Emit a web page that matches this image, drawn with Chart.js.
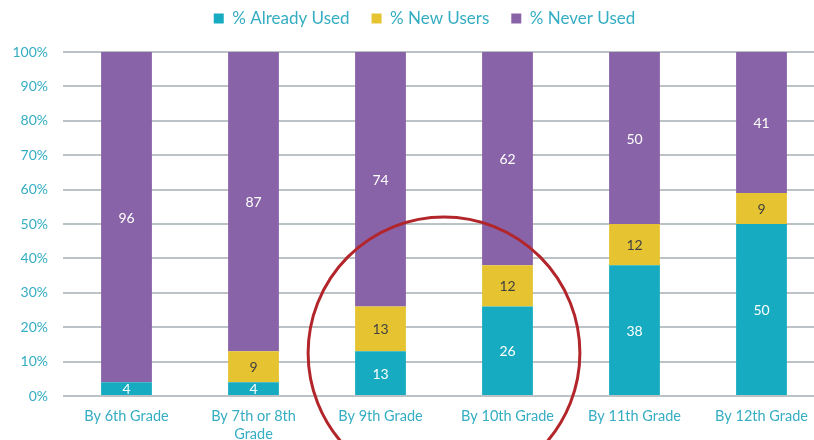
<!DOCTYPE html>
<html>
<head>
<meta charset="utf-8">
<script src="https://cdn.jsdelivr.net/npm/chart.js@4.4.1/dist/chart.umd.min.js"></script>
<style>
    html, body { margin: 0; padding: 0; background: #fff; overflow: hidden; }
    #wrap { position: relative; width: 849px; height: 440px; }
</style>
</head>
<body>
<div id="wrap"><canvas id="chart" width="849" height="440"></canvas></div>
<script>
// Categories and series (percent of students)
const grades = ['By 6th Grade', ['By 7th or 8th', 'Grade'], 'By 9th Grade', 'By 10th Grade', 'By 11th Grade', 'By 12th Grade'];
const alreadyUsed = [4, 4, 13, 26, 38, 50];
const newUsers = [0, 9, 13, 12, 12, 9];
const neverUsed = [96, 87, 74, 62, 50, 41];
const seriesNames = ['% Already Used', '% New Users', '% Never Used'];

// Colors
const teal = '#17abc1';
const yellow = '#e6c431';
const purple = '#8963a8';
const textTeal = '#35adc2';

// Draw the number in the middle of each bar piece
const barLabels = {
    id: 'barLabels',
    afterDatasetsDraw(chart) {
        const ctx = chart.ctx;
        ctx.save();
        ctx.font = '14px Lato';
        ctx.textAlign = 'center';
        ctx.textBaseline = 'middle';
        chart.data.datasets.forEach((ds, i) => {
            const meta = chart.getDatasetMeta(i);
            meta.data.forEach((bar, j) => {
                const v = ds.data[j];
                if (!v) return;
                ctx.fillStyle = i === 1 ? '#404040' : '#ffffff';
                ctx.fillText(v, bar.x, (bar.y + bar.base) / 2 + 1);
            });
        });
        ctx.restore();
    }
};

// Red circle around 9th and 10th grade
const circleMark = {
    id: 'circleMark',
    afterDraw(chart) {
        const x = chart.scales.x;
        const y = chart.scales.y;
        const step = x.getPixelForValue(1) - x.getPixelForValue(0);
        const cx = (x.getPixelForValue(2) + x.getPixelForValue(3)) / 2;
        const cy = y.getPixelForValue(12.5);
        const r = step * 1.07;
        const ctx = chart.ctx;
        ctx.save();
        ctx.strokeStyle = '#b2262b';
        ctx.lineWidth = 3;
        ctx.beginPath();
        ctx.arc(cx, cy, r, 0, Math.PI * 2);
        ctx.stroke();
        ctx.restore();
    }
};

// empty axes used only as spacers
const spacer = (size) => ({
    display: true,
    grid: { display: false, drawTicks: false },
    border: { display: false },
    ticks: { display: false },
    afterFit(s) {
        if (s.isHorizontal()) s.height = size; else s.width = size;
    }
});

const ctx = document.getElementById('chart').getContext('2d');
new Chart(ctx, {
    type: 'bar',
    data: {
        labels: grades,
        datasets: [
            { label: seriesNames[0], data: alreadyUsed, backgroundColor: teal, xAxisID: 'x', yAxisID: 'y' },
            { label: seriesNames[1], data: newUsers, backgroundColor: yellow, xAxisID: 'x', yAxisID: 'y' },
            { label: seriesNames[2], data: neverUsed, backgroundColor: purple, xAxisID: 'x', yAxisID: 'y' }
        ]
    },
    options: {
        responsive: false,
        animation: false,
        layout: { padding: { left: 0, right: 0, top: -12, bottom: 0 } },
        datasets: {
            bar: { barPercentage: 0.4, categoryPercentage: 1 }
        },
        plugins: {
            tooltip: { enabled: false },
            legend: {
                position: 'top',
                labels: {
                    color: textTeal,
                    font: { family: 'Lato', size: 17 },
                    boxWidth: 10,
                    boxHeight: 10,
                    padding: 22
                }
            }
        },
        scales: {
            x: {
                stacked: true,
                grid: { display: false, drawTicks: false },
                border: { display: false },
                ticks: {
                    color: textTeal,
                    font: { family: 'Lato', size: 14.5 },
                    padding: 12,
                    maxRotation: 0,
                    autoSkip: false
                },
                afterFit(s) { s.height = 44; }
            },
            y: {
                stacked: true,
                min: 0,
                max: 100,
                grid: { color: '#bcc3c6', lineWidth: 2, drawTicks: false },
                border: { display: false },
                ticks: {
                    stepSize: 10,
                    color: textTeal,
                    font: { family: 'Lato', size: 14 },
                    padding: 15,
                    callback: v => v + '%'
                },
                afterFit(s) { s.width = 63; }
            },
            gapTop: Object.assign({ type: 'category', position: 'top', axis: 'x' }, spacer(15)),
            gapRight: Object.assign({ type: 'linear', position: 'right', axis: 'y' }, spacer(24))
        }
    },
    plugins: [barLabels, circleMark]
});
</script>
</body>
</html>
